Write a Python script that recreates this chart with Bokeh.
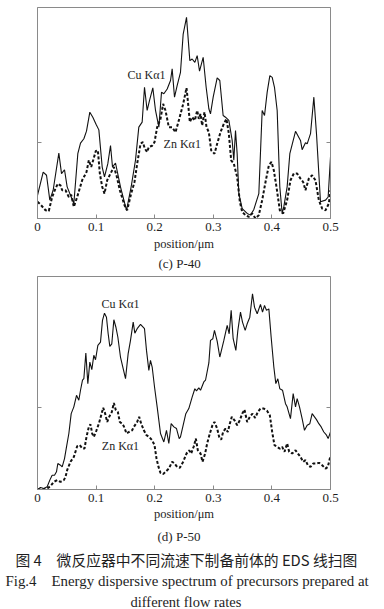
from bokeh.plotting import figure
from bokeh.layouts import column
from bokeh.models import Range1d, FixedTicker, LinearAxis, Label, Title
from bokeh.embed import file_html
from bokeh.resources import INLINE

# ---------------- data ----------------
x_ticks = [0, 0.1, 0.2, 0.3, 0.4, 0.5]
x_tick_labels = ["0", "0.1", "0.2", "0.3", "0.4", "0.5"]
x_label = "position/\u03bcm"

# (c) P-40
pos_c_cu = [0, 0.0097, 0.0154, 0.021, 0.0267, 0.0364, 0.041, 0.0461, 0.0506, 0.0575,
            0.062, 0.0688, 0.0734, 0.0791, 0.0836, 0.0893, 0.0944, 0.1001, 0.1047, 0.1104,
            0.1143, 0.12, 0.1246, 0.128, 0.1331, 0.136, 0.1416, 0.1519, 0.1598, 0.1672,
            0.1729, 0.1786, 0.1826, 0.1871, 0.1911, 0.1968, 0.2014, 0.2071, 0.2116, 0.2156,
            0.2213, 0.227, 0.2298, 0.2338, 0.2383, 0.244, 0.2486, 0.2543, 0.26, 0.2639,
            0.2685, 0.2725, 0.2765, 0.2827, 0.2878, 0.2924, 0.2952, 0.2998, 0.3066, 0.3111,
            0.3168, 0.3208, 0.3265, 0.3322, 0.335, 0.3379, 0.3407, 0.3436, 0.3493, 0.3578,
            0.3635, 0.3692, 0.3777, 0.3834, 0.3874, 0.3919, 0.3965, 0.4005, 0.4044, 0.409,
            0.4135, 0.4175, 0.4203, 0.426, 0.4306, 0.4403, 0.4488, 0.4516, 0.4573, 0.4602,
            0.4659, 0.4716, 0.4761, 0.4829, 0.4915, 0.496, 0.5]
cu_c = [11.0, 22.0, 20.5, 8.7, 13.4, 31.0, 21.3, 23.1, 15.0, 10.2,
        7.1, 30.7, 35.7, 37.8, 41.4, 50.4, 48.0, 44.6, 42.0, 24.4,
        19.7, 26.0, 34.6, 24.4, 26.3, 22.5, 15.0, 3.9, 15.0, 27.6,
        43.3, 45.7, 62.2, 51.2, 55.9, 61.9, 51.2, 43.3, 59.8, 59.1,
        61.4, 65.4, 70.9, 57.5, 63.0, 69.3, 87.4, 95.3, 74.8, 75.6,
        74.0, 77.2, 69.8, 76.4, 62.2, 52.0, 49.6, 57.5, 66.6, 65.4,
        48.8, 48.0, 46.5, 37.0, 27.6, 41.7, 30.7, 11.8, 4.7, 2.4,
        1.6, 4.3, 11.8, 51.2, 48.8, 59.8, 67.7, 66.9, 62.2, 51.2,
        15.0, 2.4, 5.5, 15.0, 30.7, 41.3, 37.0, 32.6, 35.9, 35.4,
        40.2, 57.5, 40.2, 7.9, 8.7, 10.2, 29.1]
pos_c_zn = [0, 0.0051, 0.0137, 0.0193, 0.025, 0.0307, 0.0347, 0.0392, 0.0421, 0.0478,
            0.0535, 0.0575, 0.062, 0.0677, 0.0762, 0.0836, 0.0876, 0.0916, 0.095, 0.0995,
            0.103, 0.1064, 0.1104, 0.1143, 0.1189, 0.1246, 0.1303, 0.1348, 0.1405, 0.1485,
            0.153, 0.1598, 0.1655, 0.1701, 0.1758, 0.1797, 0.1832, 0.1871, 0.19, 0.1957,
            0.1997, 0.2042, 0.2099, 0.2144, 0.2184, 0.2241, 0.2298, 0.2355, 0.2412, 0.2486,
            0.2543, 0.2565, 0.26, 0.2639, 0.2685, 0.2725, 0.2753, 0.2782, 0.281, 0.285,
            0.2884, 0.2924, 0.2964, 0.302, 0.3066, 0.3123, 0.318, 0.3225, 0.3265, 0.3305,
            0.335, 0.3407, 0.3453, 0.3493, 0.3549, 0.3606, 0.3663, 0.372, 0.3777, 0.3834,
            0.3891, 0.3948, 0.3993, 0.4033, 0.4078, 0.4135, 0.4192, 0.426, 0.4317, 0.4374,
            0.4431, 0.4488, 0.4533, 0.4573, 0.463, 0.4687, 0.4744, 0.4801, 0.4858, 0.4915,
            0.4972, 0.5]
zn_c = [7.9, 6.6, 3.9, 3.6, 10.2, 14.2, 16.5, 15.7, 13.4, 13.4,
        10.2, 11.3, 5.5, 10.2, 18.1, 22.0, 27.6, 24.4, 27.6, 32.0,
        32.3, 21.3, 15.0, 11.8, 18.1, 21.3, 24.4, 20.5, 13.4, 6.3,
        3.9, 11.8, 17.3, 26.0, 35.4, 36.2, 33.1, 31.5, 33.9, 34.5,
        36.2, 43.3, 47.2, 54.3, 51.2, 43.3, 43.3, 40.9, 46.5, 54.3,
        61.9, 55.9, 45.7, 48.0, 46.5, 51.2, 47.2, 49.6, 44.1, 50.4,
        43.3, 40.9, 32.3, 30.7, 35.4, 40.9, 44.9, 47.2, 40.2, 27.6,
        26.0, 19.7, 7.9, 3.1, 1.6, 0.8, 2.4, 0, 1.6, 8.7,
        17.3, 25.2, 26.8, 22.8, 15.0, 3.9, 2.4, 8.7, 18.1, 21.3,
        21.3, 18.9, 17.3, 13.4, 18.9, 20.5, 18.1, 8.7, 4.7, 3.9,
        7.1, 13.4]

# (d) P-50
pos_d_cu = [0, 0.0051, 0.0108, 0.0165, 0.021, 0.025, 0.029, 0.0324, 0.0347, 0.0392,
            0.0421, 0.0461, 0.0495, 0.0535, 0.0575, 0.062, 0.0666, 0.0705, 0.0734, 0.0768,
            0.0791, 0.0825, 0.0859, 0.0893, 0.0927, 0.0961, 0.099, 0.103, 0.1075, 0.1109,
            0.1143, 0.1177, 0.1206, 0.1234, 0.1268, 0.1303, 0.1337, 0.1371, 0.1416, 0.1462,
            0.1502, 0.1547, 0.1587, 0.1633, 0.1661, 0.1701, 0.1758, 0.1826, 0.186, 0.19,
            0.1928, 0.1957, 0.1997, 0.2042, 0.2099, 0.2156, 0.2201, 0.2241, 0.2281, 0.2327,
            0.2372, 0.2418, 0.244, 0.2486, 0.2531, 0.2582, 0.2639, 0.2685, 0.2713, 0.2753,
            0.2782, 0.2838, 0.2867, 0.2924, 0.2952, 0.2992, 0.302, 0.3066, 0.3111, 0.318,
            0.3237, 0.3271, 0.3305, 0.3339, 0.3385, 0.3419, 0.3464, 0.3498, 0.3544, 0.3578,
            0.3623, 0.3669, 0.3703, 0.3749, 0.3805, 0.384, 0.3874, 0.3908, 0.3948, 0.3987,
            0.4033, 0.4067, 0.4101, 0.4135, 0.4181, 0.4232, 0.426, 0.4317, 0.4363, 0.4403,
            0.4431, 0.4471, 0.4516, 0.4556, 0.4602, 0.4647, 0.4687, 0.4727, 0.4761, 0.4801,
            0.4841, 0.4886, 0.4932, 0.496, 0.5]
cu_d = [0, 0.9, 0.5, 1.3, 4.4, 6.7, 6.7, 8.3, 12.2, 11.4,
        10.6, 14.5, 20.0, 26.3, 35.6, 38.8, 44.2, 41.9, 46.6, 51.3,
        52.0, 64.1, 49.7, 59.8, 56.3, 63.0, 60.9, 67.7, 69.2, 79.4,
        82.8, 80.9, 73.1, 67.2, 68.4, 79.7, 76.3, 71.6, 62.2, 56.7,
        52.0, 63.8, 70.0, 78.6, 73.4, 75.5, 77.5, 75.5, 65.3, 55.9,
        60.6, 57.5, 48.1, 38.8, 26.3, 22.3, 27.8, 21.6, 30.9, 29.4,
        28.6, 23.9, 24.7, 30.2, 35.6, 38.0, 43.4, 47.3, 46.3, 47.7,
        46.6, 50.5, 51.3, 59.4, 70.0, 70.8, 74.7, 69.7, 62.2, 70.0,
        77.0, 73.1, 84.1, 70.8, 65.3, 74.7, 83.3, 78.6, 74.7, 77.8,
        80.9, 91.9, 85.6, 82.5, 86.9, 83.3, 86.4, 84.1, 84.8, 71.6,
        57.5, 49.7, 52.0, 47.3, 46.6, 40.3, 38.8, 33.3, 45.0, 38.8,
        42.7, 38.8, 33.3, 27.8, 30.2, 30.9, 35.6, 34.1, 32.8, 30.9,
        29.4, 27.0, 25.5, 23.9, 27.0]
pos_d_zn = [0, 0.008, 0.0165, 0.0222, 0.0279, 0.0336, 0.0392, 0.0449, 0.0478, 0.0506,
            0.0563, 0.062, 0.0677, 0.0722, 0.0768, 0.0802, 0.0836, 0.0876, 0.0904, 0.0933,
            0.0961, 0.1007, 0.1047, 0.1086, 0.1121, 0.1155, 0.1189, 0.1223, 0.1268, 0.1303,
            0.1337, 0.1371, 0.1405, 0.1445, 0.1473, 0.1519, 0.1559, 0.1615, 0.1644, 0.1701,
            0.1735, 0.1769, 0.1815, 0.186, 0.1906, 0.1957, 0.1997, 0.2031, 0.2065, 0.2099,
            0.2144, 0.2184, 0.2241, 0.2298, 0.2338, 0.2383, 0.2429, 0.2486, 0.2543, 0.2588,
            0.2622, 0.2668, 0.2702, 0.2736, 0.2782, 0.2816, 0.2861, 0.2895, 0.2941, 0.2986,
            0.302, 0.3066, 0.31, 0.3134, 0.3168, 0.3208, 0.3248, 0.3282, 0.3316, 0.3362,
            0.3407, 0.3453, 0.3493, 0.3532, 0.3578, 0.3623, 0.3669, 0.3714, 0.376, 0.3805,
            0.3862, 0.3919, 0.3965, 0.4005, 0.4044, 0.409, 0.4135, 0.4175, 0.4215, 0.426,
            0.4295, 0.4346, 0.4403, 0.4443, 0.4488, 0.4533, 0.4573, 0.4613, 0.4659, 0.4704,
            0.4761, 0.4806, 0.4858, 0.4915, 0.4954, 0.5]
zn_d = [0, 0, 0.5, 1.6, 3.6, 4.4, 3.6, 4.4, 5.9, 9.1,
        13.0, 15.3, 20.3, 20.8, 19.2, 19.2, 24.7, 29.4, 30.6, 26.3,
        24.7, 27.8, 30.9, 34.8, 38.4, 35.6, 31.7, 34.1, 36.4, 40.6,
        37.2, 36.4, 31.7, 30.9, 29.7, 26.3, 27.0, 27.8, 29.4, 31.7,
        34.1, 30.9, 27.8, 25.5, 24.7, 23.1, 20.8, 14.5, 10.6, 7.8,
        7.2, 8.3, 9.8, 13.0, 12.2, 10.6, 10.2, 13.0, 16.9, 18.4,
        16.9, 20.3, 23.9, 18.4, 16.9, 13.0, 16.9, 21.6, 26.3, 30.2,
        31.7, 28.6, 24.7, 23.4, 27.0, 28.6, 27.0, 30.9, 34.1, 32.5,
        30.2, 32.5, 35.6, 37.5, 31.7, 34.1, 35.6, 33.6, 36.4, 38.0,
        38.0, 36.9, 34.8, 27.0, 20.8, 20.0, 19.2, 20.0, 17.7, 21.6,
        17.7, 16.9, 18.4, 16.9, 15.3, 13.0, 13.8, 11.4, 10.6, 12.2,
        12.2, 12.5, 11.4, 9.8, 10.6, 15.8]

series_names = ["Cu K\u03b11", "Zn K\u03b11"]
caption_c = "(c) P-40"
caption_d = "(d) P-50"
caption_cn = "\u56fe 4\u3000\u5fae\u53cd\u5e94\u5668\u4e2d\u4e0d\u540c\u6d41\u901f\u4e0b\u5236\u5907\u524d\u4f53\u7684 EDS \u7ebf\u626b\u56fe"
caption_en1 = "Fig.4\u2003Energy dispersive spectrum of precursors prepared at"
caption_en2 = "different flow rates"

SERIF = "Liberation Serif"
CJK = "Noto Sans CJK SC"
FRAME_GRAY = "#8a8a8a"
TXT = "#1e1e1e"


def panel(frame_h, border_top, border_bottom, ytick, cu_x, cu_y, zn_x, zn_y,
          cu_lab, zn_lab, caption, cap_standoff, cap_offset, lab_standoff):
    p = figure(frame_width=293, frame_height=frame_h,
               x_range=Range1d(0, 0.5), y_range=Range1d(0, 100),
               output_backend="svg", toolbar_location=None,
               min_border_left=37, min_border_right=46,
               min_border_top=border_top, min_border_bottom=border_bottom)
    p.xgrid.visible = False
    p.ygrid.visible = False
    p.outline_line_color = FRAME_GRAY
    p.outline_line_width = 1
    p.background_fill_color = "white"
    p.border_fill_color = "white"

    xa = p.xaxis[0]
    xa.ticker = FixedTicker(ticks=x_ticks)
    xa.major_label_overrides = dict(zip(x_ticks, x_tick_labels))
    xa.major_tick_in = 4
    xa.major_tick_out = 0
    xa.minor_tick_in = 0
    xa.minor_tick_out = 0
    xa.axis_line_color = FRAME_GRAY
    xa.major_tick_line_color = FRAME_GRAY
    xa.major_label_text_font = SERIF
    xa.major_label_text_font_size = "13px"
    xa.major_label_text_color = TXT
    xa.major_label_standoff = 4
    xa.axis_label = x_label
    xa.axis_label_text_font = SERIF
    xa.axis_label_text_font_size = "12.5px"
    xa.axis_label_text_font_style = "normal"
    xa.axis_label_text_color = TXT
    xa.axis_label_standoff = lab_standoff

    ya = p.yaxis[0]
    right = LinearAxis()
    p.add_layout(right, "right")
    for a in (ya, right):
        a.ticker = FixedTicker(ticks=[ytick])
        a.major_label_overrides = {ytick: ""}
        a.major_tick_in = 4
        a.major_tick_out = 0
        a.minor_tick_in = 0
        a.minor_tick_out = 0
        a.axis_line_color = FRAME_GRAY
        a.major_tick_line_color = FRAME_GRAY

    p.line(cu_x, cu_y, line_color="#111111", line_width=1.1)
    p.line(zn_x, zn_y, line_color="#111111", line_width=2, line_dash="3 2")

    for (lx, ly), txt in zip((cu_lab, zn_lab), series_names):
        p.add_layout(Label(x=lx, y=ly, text=txt, text_font=SERIF,
                           text_font_size="12px", text_align="center",
                           text_baseline="middle", text_color=TXT))

    p.add_layout(Title(text=caption, align="left", offset=cap_offset,
                       text_font=SERIF, text_font_size="13px",
                       text_font_style="normal", text_color=TXT,
                       standoff=cap_standoff), "below")
    return p


p1 = panel(211, 7, 56, 36.2, pos_c_cu, cu_c, pos_c_zn, zn_c,
           (0.186, 68.2), (0.247, 35.1), caption_c, 1, 121, 3)
p2 = panel(213, 2, 118, 38.3, pos_d_cu, cu_d, pos_d_zn, zn_d,
           (0.1416, 86.9), (0.1416, 20.2), caption_d, 6, 120, 2)

p2.add_layout(Title(text=caption_cn, align="left", offset=-22, text_font=CJK,
                    text_font_size="14.8px", text_font_style="normal",
                    text_color=TXT, standoff=0), "below")
p2.add_layout(Title(text=caption_en1, align="left", offset=-32, text_font=SERIF,
                    text_font_size="14.9px", text_font_style="normal",
                    text_color=TXT, standoff=3), "below")
p2.add_layout(Title(text=caption_en2, align="left", offset=93, text_font=SERIF,
                    text_font_size="14.5px", text_font_style="normal",
                    text_color=TXT, standoff=2), "below")

layout = column(p1, p2, spacing=0)
open("out.html", "w").write(file_html(layout, INLINE))
